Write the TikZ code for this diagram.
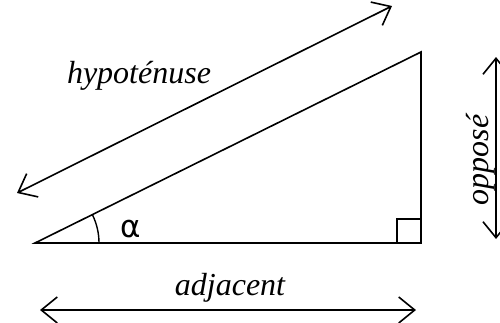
\documentclass[tikz,border=0pt]{standalone}
\usepackage{fontspec}
\setmainfont{Liberation Serif}
\newfontfamily\greekfont{DejaVu Sans}
\usetikzlibrary{arrows.meta,calc}
\begin{document}
\begin{tikzpicture}[x=1pt,y=-1pt,
  edge/.style={line width=1.6pt},
  dimarrow/.style={line width=1.6pt,{Straight Barb[length=16pt,width=26pt,line width=1.6pt]}-{Straight Barb[length=16pt,width=26pt,line width=1.6pt]}},
  lbl/.style={font=\fontsize{32}{38}\selectfont\itshape, inner sep=0pt}]
\useasboundingbox[clip] (0,0) rectangle (500,322);
\coordinate (A) at (35,243);
\coordinate (C) at (421,243);
\coordinate (B) at (421,52);
\draw[edge, line join=miter] (A) -- (C) -- (B) -- cycle;
\draw[line width=1.4pt] (397,243) -- (397,219) -- (421,219);
\draw[line width=1.4pt] ($(A)+(64,0)$) arc[start angle=0, end angle=-26.5, radius=64];
\node[font=\greekfont\fontsize{31}{36}\selectfont, inner sep=0pt] (alpha) at (131,229) {α};
\coordinate (h1) at (17,193);
\coordinate (h2) at (392,6);
\draw[dimarrow] (h1) -- (h2);
\node[lbl] (hyp) at (139,76) {hypoténuse};
\coordinate (a1) at (40,310);
\coordinate (a2) at (416,310);
\draw[dimarrow] (a1) -- (a2);
\node[lbl] (adj) at (230,288) {adjacent};
\coordinate (o1) at (496,57);
\coordinate (o2) at (496,239);
\draw[dimarrow] (o1) -- (o2);
\node[lbl, rotate=90] (opp) at (481,160) {opposé};
\end{tikzpicture}
\end{document}
